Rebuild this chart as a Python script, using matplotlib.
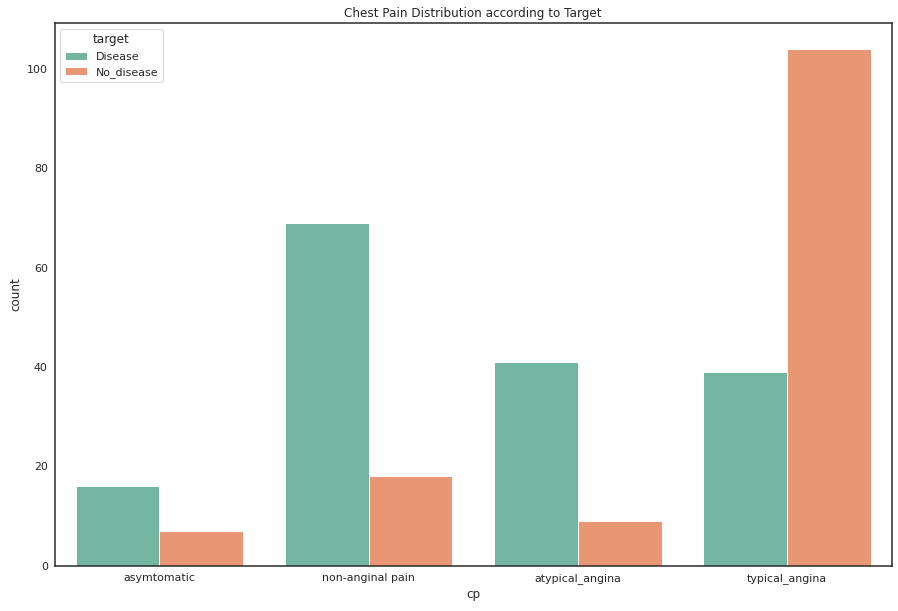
import matplotlib
matplotlib.use("Agg")
import matplotlib.pyplot as plt
import seaborn as sns
import pandas as pd

categories = ["asymtomatic", "non-anginal pain", "atypical_angina", "typical_angina"]
disease = [16, 69, 41, 39]
no_disease = [7, 18, 9, 104]

df = pd.DataFrame({
    "cp": categories * 2,
    "count": disease + no_disease,
    "target": ["Disease"] * 4 + ["No_disease"] * 4,
})

sns.set_style("white")
plt.rcParams.update({"xtick.labelsize": 11, "ytick.labelsize": 11,
                     "axes.labelsize": 12, "legend.fontsize": 11,
                     "axes.linewidth": 1.5})
fig = plt.figure(figsize=(898 / 72, 611 / 72), dpi=72)
ax = fig.add_axes([0.061, 0.074, 0.932, 0.888])
sns.barplot(data=df, x="cp", y="count", hue="target", palette="Set2", ax=ax)
ax.set_title("Chest Pain Distribution according to Target")
ax.legend(title="target", loc="upper left", title_fontsize=12)
fig.savefig("out.png", dpi=72)
